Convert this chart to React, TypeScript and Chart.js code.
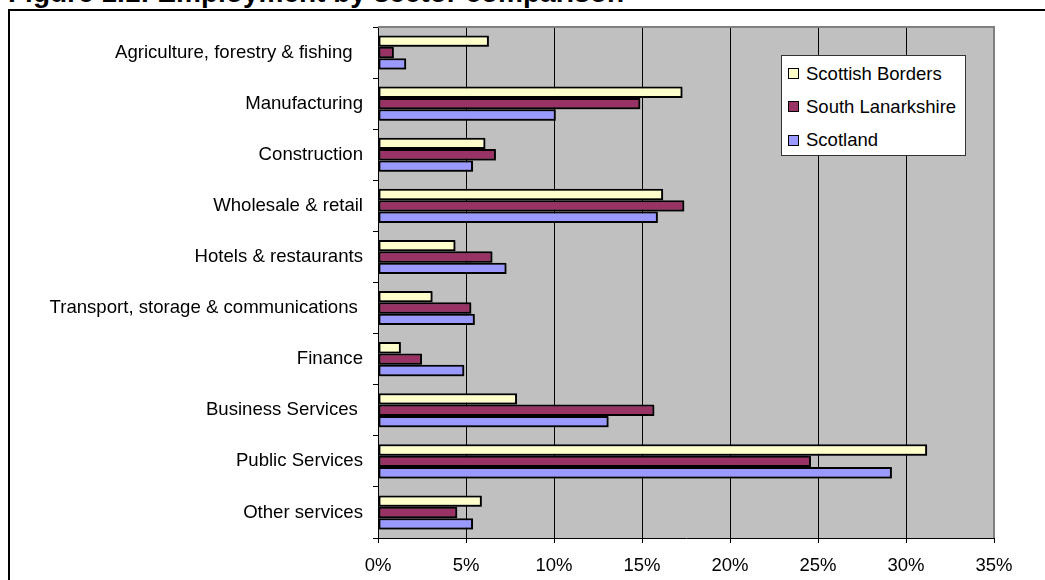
import React, { useEffect, useRef } from "react";
import { Chart, registerables } from "chart.js";

Chart.register(...registerables);

const titleText = "Figure 1.1: Employment by sector comparison";

const categories = [
  "Agriculture, forestry & fishing  ",
  "Manufacturing",
  "Construction",
  "Wholesale & retail",
  "Hotels & restaurants",
  "Transport, storage & communications ",
  "Finance",
  "Business Services ",
  "Public Services",
  "Other services",
];

const seriesNames = ["Scottish Borders", "South Lanarkshire", "Scotland"];
const seriesColors = ["#FFFFCC", "#993366", "#9999FF"];

const scottishBorders = [6.3, 17.3, 6.1, 16.2, 4.4, 3.1, 1.3, 7.9, 31.2, 5.9];
const southLanarkshire = [0.9, 14.9, 6.7, 17.4, 6.5, 5.3, 2.5, 15.7, 24.6, 4.5];
const scotland = [1.6, 10.1, 5.4, 15.9, 7.3, 5.5, 4.9, 13.1, 29.2, 5.4];

const xMin = 0;
const xMax = 35;
const xStep = 5;

const FONT = "Arial, 'Liberation Sans', sans-serif";

const plotBgPlugin = {
  id: "plotBg",
  beforeDraw(chart: any) {
    const { ctx, chartArea } = chart;
    ctx.save();
    ctx.fillStyle = "#C0C0C0";
    ctx.fillRect(chartArea.left, chartArea.top, chartArea.right - chartArea.left, chartArea.bottom - chartArea.top);
    ctx.restore();
  },
  beforeDatasetsDraw(chart: any) {
    const { ctx } = chart;
    ctx.save();
    ctx.shadowColor = "rgba(0,0,0,0.45)";
    ctx.shadowOffsetX = 1;
    ctx.shadowOffsetY = 1;
    ctx.shadowBlur = 0;
  },
  afterDatasetsDraw(chart: any) {
    chart.ctx.restore();
  },
  afterDraw(chart: any) {
    const { ctx, chartArea } = chart;
    ctx.save();
    ctx.strokeStyle = "#808080";
    ctx.lineWidth = 2;
    ctx.beginPath();
    ctx.moveTo(chartArea.left, chartArea.top);
    ctx.lineTo(chartArea.right, chartArea.top);
    ctx.lineTo(chartArea.right, chartArea.bottom);
    ctx.stroke();
    ctx.restore();
  },
};

export default function App() {
  const canvasRef = useRef<HTMLCanvasElement | null>(null);

  useEffect(() => {
    if (!canvasRef.current) return;
    const seriesData = [scottishBorders, southLanarkshire, scotland];
    const chart = new Chart(canvasRef.current, {
      type: "bar",
      data: {
        labels: categories,
        datasets: seriesNames.map((name, i) => ({
          label: name,
          data: seriesData[i],
          backgroundColor: seriesColors[i],
          borderColor: "#000000",
          borderWidth: 2,
          borderSkipped: false,
          categoryPercentage: 0.667,
          barPercentage: 1,
        })),
      },
      options: {
        indexAxis: "y",
        responsive: false,
        animation: false,
        devicePixelRatio: 1,
        layout: { padding: { left: 0, top: 27, right: 51, bottom: 0 } },
        plugins: {
          legend: { display: false },
          title: { display: false },
          tooltip: { enabled: false },
        },
        font: { family: FONT },
        scales: {
          x: {
            type: "linear",
            min: xMin,
            max: xMax,
            ticks: {
              stepSize: xStep,
              color: "#000",
              font: { family: FONT, size: 18.5 },
              padding: 12,
              callback: (v: any) => `${v}%`,
            },
            grid: {
              color: (c: any) => (c.tick && c.tick.value === xMax ? "rgba(0,0,0,0)" : "#000"),
              tickColor: "#000",
              tickLength: 5,
              lineWidth: 1,
            },
            border: { color: "#000", width: 1 },
            afterFit: (s: any) => {
              s.height = 42;
            },
          },
          y: {
            type: "category",
            offset: true,
            ticks: {
              color: "#000",
              font: { family: FONT, size: 18.6 },
              padding: 10,
              autoSkip: false,
            },
            grid: {
              offset: true,
              drawOnChartArea: false,
              tickColor: "#000",
              tickLength: 5,
              lineWidth: 1,
            },
            border: { color: "#000", width: 1 },
            afterFit: (s: any) => {
              s.width = 378;
            },
          },
        },
      },
      plugins: [plotBgPlugin],
    });
    return () => chart.destroy();
  }, []);

  const legendRowTops = [17.7, 50.9, 84.1];

  return (
    <div
      style={{
        position: "fixed",
        left: 0,
        top: 0,
        width: 1045,
        height: 580,
        overflow: "hidden",
        background: "#fff",
        fontFamily: FONT,
      }}
    >
      <div
        style={{
          position: "absolute",
          left: 8,
          top: -21,
          fontSize: 28,
          fontWeight: "bold",
          lineHeight: "28px",
          whiteSpace: "nowrap",
          color: "#000",
        }}
      >
        {titleText}
      </div>
      <div
        style={{
          position: "absolute",
          left: 8,
          top: 9,
          width: 1200,
          height: 800,
          border: "2px solid #000",
        }}
      />
      <canvas
        ref={canvasRef}
        width={1045}
        height={580}
        style={{ position: "absolute", left: 0, top: 0, width: 1045, height: 580 }}
      />
      <div
        style={{
          position: "absolute",
          left: 781,
          top: 55,
          width: 183,
          height: 99,
          background: "#fff",
          border: "1px solid #333",
        }}
      >
        {seriesNames.map((name, i) => (
          <div
            key={name}
            style={{
              position: "absolute",
              left: 6,
              top: legendRowTops[i] - 11,
              height: 22,
              display: "flex",
              alignItems: "center",
              whiteSpace: "nowrap",
              fontSize: 18.5,
              color: "#000",
            }}
          >
            <span
              style={{
                display: "inline-block",
                width: 9,
                height: 9,
                background: seriesColors[i],
                border: "1.5px solid #000",
                marginRight: 7,
              }}
            />
            <span>{name}</span>
          </div>
        ))}
      </div>
    </div>
  );
}
